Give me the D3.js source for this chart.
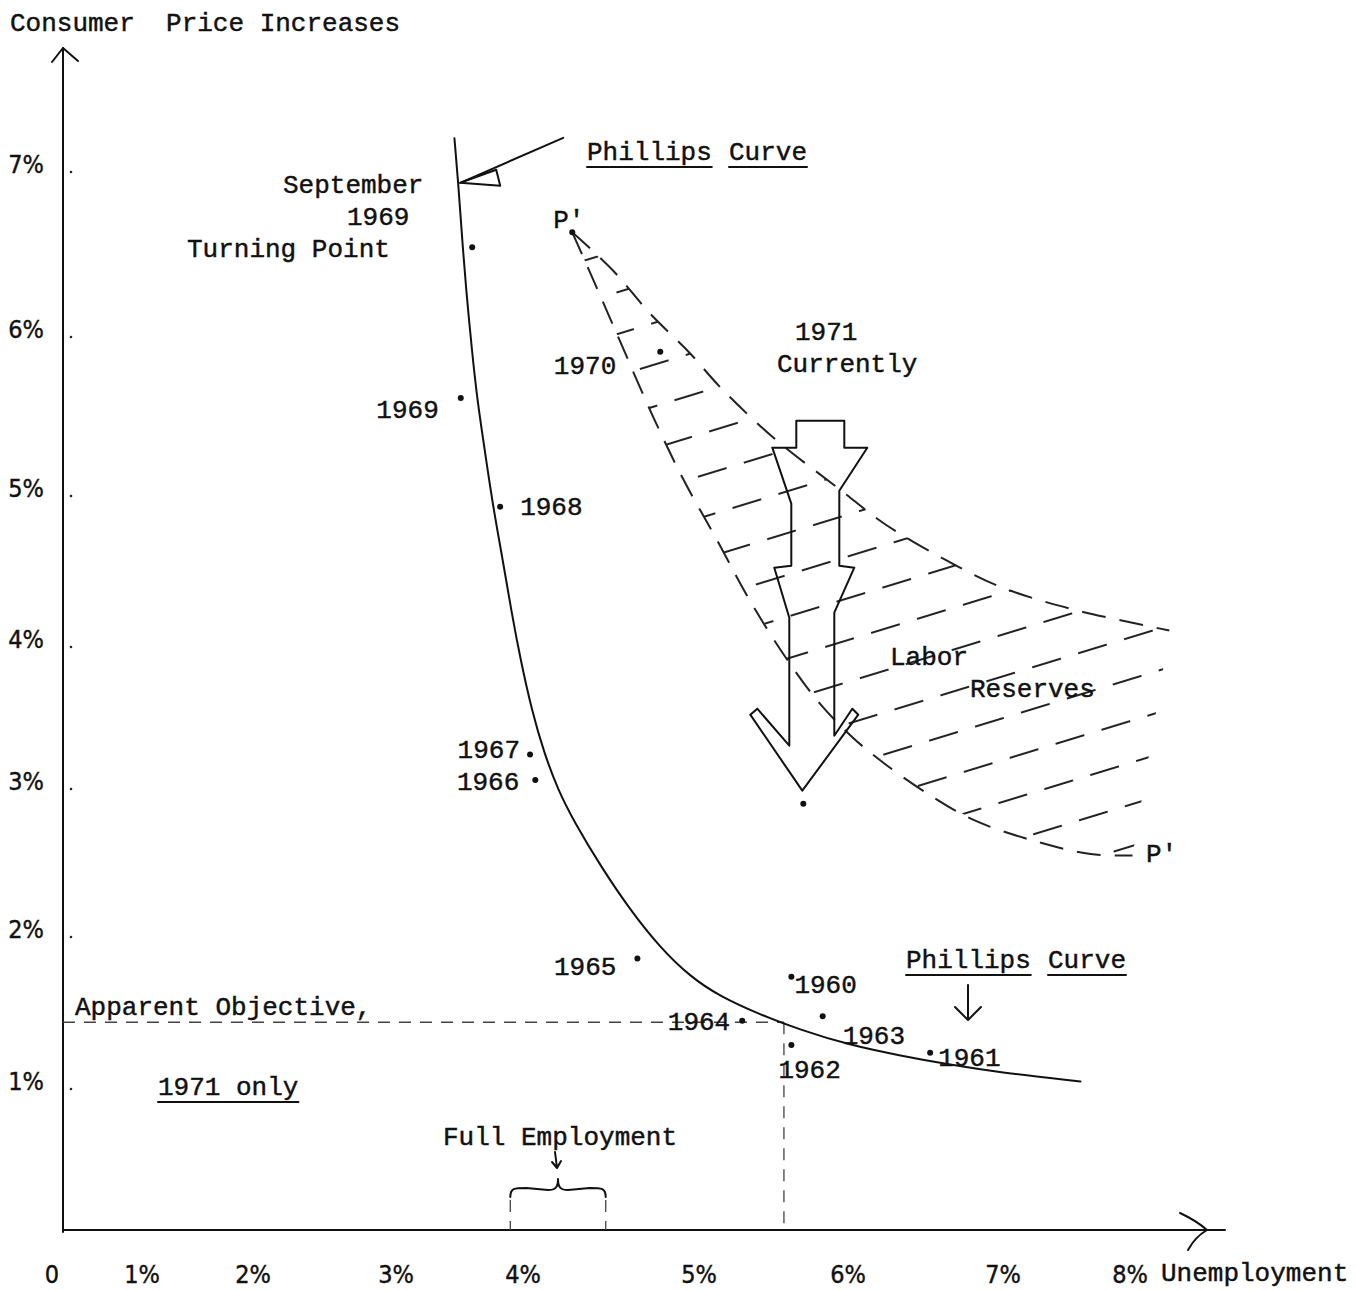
<!DOCTYPE html>
<html>
<head>
<meta charset="utf-8">
<title>Phillips Curve</title>
<script src="https://d3js.org/d3.v7.min.js"></script>
<style>
  body { margin: 0; background: #fff; }
  svg { display: block; background: #fff; }
  .type { font-family: "Liberation Mono", "Courier New", monospace; font-size: 26px; fill: #111; stroke: #111; stroke-width: 0.45; }
  .tick { font-family: "Liberation Sans Narrow", "DejaVu Sans Condensed", "Arial Narrow", sans-serif; font-size: 25px; fill: #111; stroke: #111; stroke-width: 0.4; }
  .ink { fill: none; stroke: #111; stroke-width: 2; stroke-linejoin: round; stroke-linecap: round; }
  .bound { fill: none; stroke: #222; stroke-width: 2; stroke-dasharray: 24 14; }
  .guide { fill: none; stroke: #444; stroke-width: 1.3; stroke-dasharray: 12 9; }
</style>
</head>
<body>
<svg id="chart" width="1356" height="1290"></svg>
<script>

// axis ticks (hand drawn axes, spacing is not even)
var xTicks = [0, 1, 2, 3, 4, 5, 6, 7, 8];
var xTickLabels = ["0", "1%", "2%", "3%", "4%", "5%", "6%", "7%", "8%"];
var yTicks = [1, 2, 3, 4, 5, 6, 7];
var yTickLabels = ["1%", "2%", "3%", "4%", "5%", "6%", "7%"];

// Phillips curve, [unemployment %, price increase %]
var phillips = [
  [3.46, 7.15], [3.49, 6.88], [3.52, 6.55], [3.55, 6.25], [3.60, 5.84],
  [3.64, 5.55], [3.69, 5.28], [3.76, 4.89], [3.84, 4.52], [3.91, 4.17],
  [3.98, 3.85], [4.05, 3.49], [4.12, 3.19], [4.20, 2.93], [4.29, 2.72],
  [4.44, 2.42], [4.61, 2.12], [4.78, 1.87], [4.95, 1.68], [5.14, 1.55],
  [5.41, 1.43], [5.68, 1.33], [6.01, 1.23], [6.34, 1.16], [6.66, 1.10],
  [6.98, 1.05], [7.61, 0.99]
];

// yearly observations
var years        = ["1969S", "1969", "1968", "1967", "1966", "1965", "1964", "1960", "1963", "1962", "1961", "1970", "P'"];
var unemployment = [3.60, 3.51, 3.82, 4.04, 4.07, 4.65, 5.29, 5.62, 5.83, 5.62, 6.53, 4.78, 4.28];
var inflation    = [6.49, 5.56, 4.87, 3.18, 3.00, 1.80, 1.39, 1.68, 1.42, 1.23, 1.18, 5.85, 6.58];

// shifted curve P'-P' (lower edge) and upper edge of the labor reserves band
var reserveLower = [
  [4.28, 6.58], [4.40, 6.29], [4.55, 5.92], [4.74, 5.44], [4.91, 5.05],
  [5.12, 4.65], [5.34, 4.25], [5.59, 3.85], [5.81, 3.54], [6.03, 3.30],
  [6.23, 3.12], [6.51, 2.91], [6.81, 2.73], [7.24, 2.59], [7.69, 2.50], [8.02, 2.49]
];
var reserveUpper = [
  [4.28, 6.58], [4.51, 6.35], [4.72, 6.09], [4.95, 5.84], [5.14, 5.63],
  [5.50, 5.31], [5.95, 4.98], [6.23, 4.76], [6.59, 4.54], [6.98, 4.34],
  [7.55, 4.19], [8.31, 4.05]
];

var current1971 = [5.70, 2.84];   // where the 1971 arrow points
var objective = [5.57, 1.38];     // apparent objective, 1971 only
var fullEmployment = [3.90, 4.47];

// label placement (pixels from the dot)
var labelPos = {
  "1969": [-22, 20, "end"], "1968": [20, 8, "start"], "1967": [-10, 4, "end"],
  "1966": [-16, 10, "end"], "1965": [-21, 17, "end"], "1964": [-12, 9, "end"],
  "1960": [3, 16, "start"], "1963": [20, 28, "start"], "1962": [-13, 33, "start"],
  "1961": [8, 13, "start"], "1970": [-44, 22, "end"], "P'": [-19, -4, "start"]
};

var svg = d3.select("#chart");

var x = d3.scaleLinear().domain(xTicks).range([63, 142, 253, 396, 523, 699, 848, 1003, 1130]);
var y = d3.scaleLinear().domain([0].concat(yTicks)).range([1230, 1080, 928, 780, 638, 487, 328, 163]);

var line = d3.line().x(function(d) { return x(d[0]); }).y(function(d) { return y(d[1]); });

// hatch pattern for the labor reserves
var defs = svg.append("defs");
var pat = defs.append("pattern")
  .attr("id", "hatch")
  .attr("patternUnits", "userSpaceOnUse")
  .attr("width", 96).attr("height", 80)
  .attr("patternTransform", "rotate(-17)");
pat.append("line").attr("x1", 0).attr("x2", 96).attr("y1", 20).attr("y2", 20)
  .attr("stroke", "#222").attr("stroke-width", 1.8).attr("stroke-dasharray", "30 18");
pat.append("line").attr("x1", -24).attr("x2", 96).attr("y1", 60).attr("y2", 60)
  .attr("stroke", "#222").attr("stroke-width", 1.8).attr("stroke-dasharray", "30 18");

var band = reserveUpper.concat(reserveLower.slice().reverse());
svg.append("path")
  .attr("d", d3.line().x(function(d) { return x(d[0]); }).y(function(d) { return y(d[1]); })
    .curve(d3.curveLinearClosed)(band))
  .attr("fill", "url(#hatch)");

svg.append("path").attr("class", "bound").attr("d", line.curve(d3.curveCatmullRom)(reserveUpper));
svg.append("path").attr("class", "bound").attr("d", line.curve(d3.curveCatmullRom)(reserveLower));

// axes
var x0 = x(0), y0 = y(0);
svg.append("path").attr("class", "ink").attr("d", "M" + x0 + "," + (y0 + 2) + "V48");
svg.append("path").attr("class", "ink").attr("d", "M" + (x0 - 11) + ",62L" + x0 + ",48L" + (x0 + 15) + ",61");
svg.append("path").attr("class", "ink").attr("d", "M" + x0 + "," + y0 + "H1225");
svg.append("path").attr("class", "ink")
  .attr("d", "M1180,1213Q1197,1221 1207," + y0 + "Q1195,1237 1188,1250");

svg.selectAll(".ylab").data(yTicks).enter().append("text")
  .attr("class", "tick").attr("text-anchor", "middle")
  .attr("x", 26).attr("y", function(d) { return y(d) + 10; })
  .text(function(d, i) { return yTickLabels[i]; });
svg.selectAll(".ydot").data(yTicks).enter().append("circle")
  .attr("cx", x0 + 8).attr("cy", function(d) { return y(d) + 9; })
  .attr("r", 1.3).attr("fill", "#222");

svg.selectAll(".xlab").data(xTicks).enter().append("text")
  .attr("class", "tick").attr("text-anchor", "middle")
  .attr("x", function(d) { return d === 0 ? x(d) - 11 : x(d); })
  .attr("y", 1283)
  .text(function(d, i) { return xTickLabels[i]; });

svg.append("text").attr("class", "type").attr("x", 10).attr("y", 31)
  .attr("xml:space", "preserve").text("Consumer  Price Increases");
svg.append("text").attr("class", "type").attr("x", 1161).attr("y", 1281).text("Unemployment");

// apparent objective guides
var ox = x(objective[0]), oy = y(objective[1]);
svg.append("path").attr("class", "guide").attr("d", "M" + x0 + "," + oy + "H" + ox);
svg.append("path").attr("class", "guide").attr("stroke-dasharray", "10 12")
  .attr("d", "M" + ox + "," + oy + "V" + y0);

// full employment brace
var fa = x(fullEmployment[0]), fb = x(fullEmployment[1]), fm = (fa + fb) / 2, fy = y0 - 42;
svg.append("path").attr("class", "ink").attr("stroke-width", 1.6)
  .attr("d", "M" + fa + "," + (fy + 9) + "C" + fa + "," + fy + " " + (fa + 4) + "," + fy + " " + (fa + 16) + "," + fy +
    "L" + (fm - 10) + "," + (fy + 2) + "C" + (fm - 3) + "," + (fy + 2) + " " + fm + "," + fy + " " + fm + "," + (fy - 9) +
    "C" + fm + "," + fy + " " + (fm + 3) + "," + (fy + 2) + " " + (fm + 10) + "," + (fy + 2) +
    "L" + (fb - 16) + "," + fy + "C" + (fb - 4) + "," + fy + " " + fb + "," + fy + " " + fb + "," + (fy + 9));
[fa, fb].forEach(function(v) {
  svg.append("path").attr("class", "guide").attr("stroke-dasharray", "7 9")
    .attr("d", "M" + v + "," + (fy + 12) + "V" + y0);
});
svg.append("path").attr("class", "ink").attr("stroke-width", 1.4)
  .attr("d", "M" + (fm - 3) + "," + (fy - 36) + "L" + (fm - 1) + "," + (fy - 20) +
    "M" + (fm - 6) + "," + (fy - 26) + "L" + (fm - 1) + "," + (fy - 20) + "L" + (fm + 3) + "," + (fy - 27));

// Phillips curve
svg.append("path").attr("class", "ink").attr("d", line.curve(d3.curveBasis)(phillips));

// pointer from the top label onto the curve
var tx = x(phillips[1][0]) + 2, ty = y(phillips[1][1]);
svg.append("path").attr("class", "ink").attr("stroke-width", 1.8)
  .attr("d", "M" + (tx + 103) + "," + (ty - 45) + "L" + tx + "," + ty);
svg.append("path").attr("class", "ink").attr("stroke-width", 1.6).attr("fill", "#fff")
  .attr("d", "M" + tx + "," + ty + "L" + (tx + 36) + "," + (ty - 13) + "L" + (tx + 40) + "," + (ty + 3) + "Z");

// 1971 arrow, outline relative to its tip
var arrowShape = [
  [-6, -370], [42, -370], [42, -343], [65, -343], [37, -300], [37, -225], [52, -223],
  [32, -178], [32, -55], [50, -82], [56, -76], [0, 0], [-52, -76], [-45, -82],
  [-13, -45], [-13, -173], [-28, -223], [-11, -225], [-11, -287], [-30, -343], [-6, -343]
];
var ax = x(current1971[0]) - 1, ay = y(current1971[1]) - 13;
svg.append("path").attr("class", "ink").attr("fill", "#fff").attr("stroke-width", 2)
  .attr("d", d3.line().curve(d3.curveLinearClosed)(arrowShape.map(function(p) { return [ax + p[0], ay + p[1]]; })));

// dots
var dots = years.map(function(d, i) { return { year: d, u: unemployment[i], p: inflation[i] }; });
dots.push({ year: "1971", u: current1971[0], p: current1971[1] });
svg.selectAll(".dot").data(dots).enter().append("circle")
  .attr("cx", function(d) { return x(d.u); })
  .attr("cy", function(d) { return y(d.p); })
  .attr("r", 3).attr("fill", "#111");

svg.selectAll(".ylabel").data(dots.filter(function(d) { return labelPos[d.year]; })).enter().append("text")
  .attr("class", "type")
  .attr("x", function(d) { return x(d.u) + labelPos[d.year][0]; })
  .attr("y", function(d) { return y(d.p) + labelPos[d.year][1]; })
  .attr("text-anchor", function(d) { return labelPos[d.year][2]; })
  .text(function(d) { return d.year; });

// annotations
var notes = [
  ["September", 283, 193], ["1969", 347, 225], ["Turning Point", 187, 257],
  ["1971", 795, 340], ["Currently", 777, 372],
  ["Labor", 890, 665], ["Reserves", 970, 697],
  ["Apparent Objective,", 75, 1015], ["Full Employment", 443, 1145],
  ["P'", 1146, 862]
];
svg.selectAll(".note").data(notes).enter().append("text")
  .attr("class", "type")
  .attr("x", function(d) { return d[1]; }).attr("y", function(d) { return d[2]; })
  .text(function(d) { return d[0]; });

var underlined = [["Phillips", 587, 160], ["Curve", 729, 160], ["Phillips", 906, 968], ["Curve", 1048, 968], ["1971 only", 158, 1095]];
underlined.forEach(function(d) {
  var t = svg.append("text").attr("class", "type").attr("x", d[1]).attr("y", d[2]).text(d[0]);
  var w = t.node().getComputedTextLength();
  svg.append("path").attr("class", "ink").attr("stroke-width", 1.8)
    .attr("d", "M" + d[1] + "," + (d[2] + 7) + "H" + (d[1] + w));
});

// pointer under the lower label
svg.append("path").attr("class", "ink").attr("stroke-width", 1.8)
  .attr("d", "M968,985V1020M955,1007L968,1020L981,1007");

</script>
</body>
</html>
